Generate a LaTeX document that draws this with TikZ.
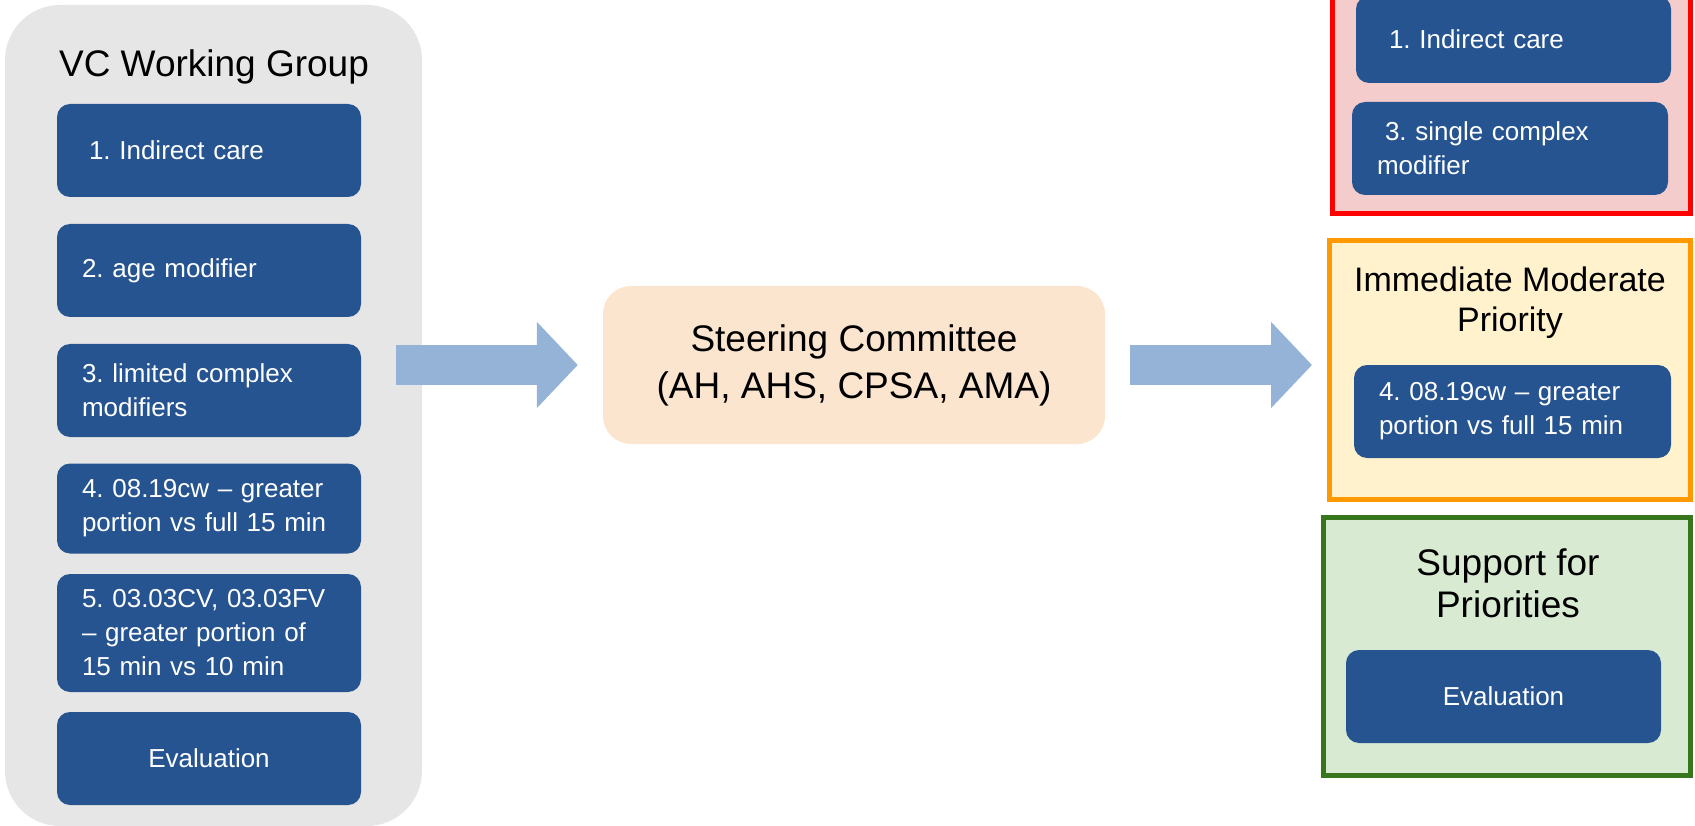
\documentclass[tikz,border=0pt]{standalone}
\usepackage{fontspec}
\setmainfont{Liberation Sans}
\usetikzlibrary{positioning,calc,arrows.meta}
\frenchspacing

\definecolor{itemblue}{RGB}{38,84,145}
\definecolor{groupgray}{RGB}{231,230,230}
\definecolor{arrowblue}{RGB}{149,179,215}
\definecolor{steerfill}{RGB}{251,229,207}
\definecolor{redfill}{RGB}{244,204,204}
\definecolor{orangefill}{RGB}{255,242,204}
\definecolor{orangeline}{RGB}{255,153,0}
\definecolor{greenfill}{RGB}{217,234,211}
\definecolor{greenline}{RGB}{56,118,29}

\begin{document}
\begin{tikzpicture}[x=1pt,y=-1pt,on grid,
   item/.style={fill=itemblue,text=white,rounded corners=13pt,minimum height=93pt,
      inner xsep=25pt,inner ysep=0pt,text width=#1,align=left,
      font=\fontsize{26}{34}\selectfont},
   item/.default=254pt,
   bigarrow/.style={arrowblue,line width=39pt,-{Triangle[width=84pt,length=41pt]}},
   bigtitle/.style={align=center,font=\fontsize{37}{44}\selectfont}]
   \clip (0,0) rectangle (1695,826);
   % containers
   \node[fill=groupgray,rounded corners=55pt,minimum width=417pt,minimum height=821pt] (wg) at (213.5,415.5) {};
   \node[fill=steerfill,rounded corners=28pt,minimum width=502pt,minimum height=158pt,
      align=center,font=\fontsize{37}{47}\selectfont] (sc) at (854,365) {Steering Committee\\(AH, AHS, CPSA, AMA)};
   \node[draw=red,fill=redfill,line width=5pt,minimum width=358pt,minimum height=233.5pt] (rc) at (1511.5,96.75) {};
   \node[draw=orangeline,fill=orangefill,line width=5pt,minimum width=361pt,minimum height=259pt] (oc) at (1510,370) {};
   \node[draw=greenline,fill=greenfill,line width=5pt,minimum width=367pt,minimum height=258pt] (gc) at (1507,646.5) {};

   % working group
   \node[bigtitle] (wg_title) at (214,67) {VC Working Group};
   \node[item] (wg_1) at (209,150.5) {\hspace*{7pt}1. Indirect care};
   \node[item] (wg_2) [below=120pt of wg_1] {2. age modifier};
   \node[item] (wg_3) [below=120pt of wg_2] {3. limited complex\\modifiers};
   \node[item,minimum height=90pt] (wg_4) [below=118pt of wg_3] {4. 08.19cw -- greater\\portion vs full 15 min};
   \node[item,minimum height=118pt] (wg_5) [below=124.5pt of wg_4] {5. 03.03CV, 03.03FV\\-- greater portion of\\15 min vs 10 min};
   \node[item,align=center] (wg_e) [below=125.5pt of wg_5] {Evaluation};

   % priorities
   \node[item=265pt,minimum height=87pt] (rc_1) at (1513.5,39.5) {\hspace*{8pt}1. Indirect care};
   \node[item=266pt] (rc_3) at (1510,148.5) {\hspace*{8pt}3. single complex\\modifier};
   \node[align=center,font=\fontsize{34}{40}\selectfont] (oc_title) at (1510,303) {Immediate Moderate\\Priority};
   \node[item=267pt] (oc_4) at (1512.5,411.5) {4. 08.19cw -- greater\\portion vs full 15 min};
   \node[bigtitle,font=\fontsize{37}{42}\selectfont] (gc_title) at (1508,583) {Support for\\Priorities};
   \node[item=265pt,align=center] (gc_e) at (1503.5,696.5) {Evaluation};

   \draw[bigarrow] ($(wg.east |- sc.west)+(-26pt,0)$) -- ($(sc.west)+(-25pt,0)$);
   \draw[bigarrow] ($(sc.east)+(25pt,0)$) -- ($(oc.west |- sc.east)+(-15pt,0)$);
\end{tikzpicture}
\end{document}
